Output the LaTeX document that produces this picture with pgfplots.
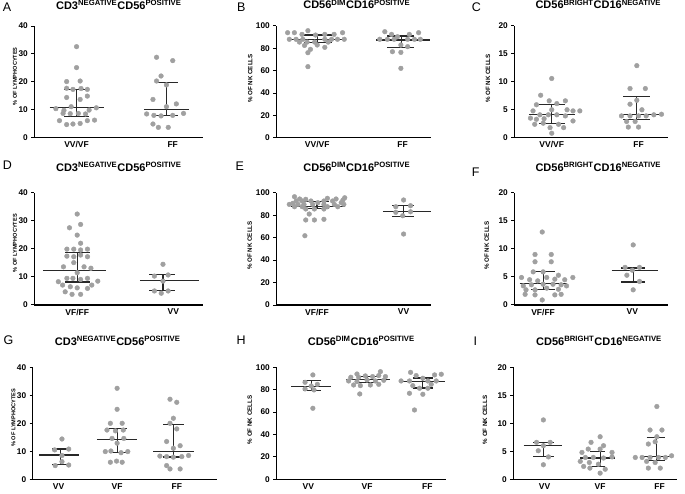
\documentclass[border=0pt]{standalone}
\usepackage{fontspec}
\setmainfont{Liberation Sans}
\usepackage{pgfplots}
\pgfplotsset{compat=1.18}
\definecolor{dotgray}{RGB}{160,160,160}
\definecolor{barcol}{RGB}{40,40,40}
\pgfplotsset{
  panel/.style={
    scale only axis, anchor=south west,
    axis x line*=bottom, axis y line*=left,
    axis line style={line width=1.1pt, black},
    ymin=0, clip=false,
    xtick style={draw=none},
    ytick style={line width=1pt, black},
    tick align=outside, major tick length=3pt,
    /pgf/number format/assume math mode=true,
    yticklabel style={font=\bfseries\fontsize{8.3}{9}\selectfont},
    xticklabel style={font=\bfseries\fontsize{8.5}{9}\selectfont, yshift=2.5pt},
    ylabel style={font=\bfseries\fontsize{6.2}{7}\selectfont, anchor=center},
    title style={font=\bfseries\fontsize{11}{13}\selectfont, at={(0.5,1)}, anchor=base},
  },
  dots/.style={only marks, mark=*, mark size=2.35pt, color=dotgray},
  bars/.style={line width=1.2pt, color=barcol, no markers, unbounded coords=jump},
}
\newcommand{\tA}{CD3\textsuperscript{NEGATIVE}CD56\textsuperscript{POSITIVE}}
\newcommand{\tB}{CD56\textsuperscript{DIM}CD16\textsuperscript{POSITIVE}}
\newcommand{\tC}{CD56\textsuperscript{BRIGHT}CD16\textsuperscript{NEGATIVE}}
\begin{document}
\begin{tikzpicture}
\useasboundingbox (0,0) rectangle (685pt,493pt);
% ---------------- A
\begin{axis}[panel, at={(34.3pt,355.3pt)}, width=169pt, height=111.7pt,
  xmin=0.53, xmax=2.41, ymax=40, ytick={0,10,20,30,40},
  xtick={1,2.07}, xticklabels={VV/VF,FF},
  ylabel={\% OF LYMPHOCYTES}, ylabel style={at={(axis description cs:-0.114,0.55)}, font=\bfseries\fontsize{5.6}{7}\selectfont},
  title={\tA}, title style={yshift=11pt}]
\addplot[dots] coordinates {(1.00,32.6)(1.00,25.1)(0.89,20.1)(1.04,20.3)(0.89,17.7)(0.96,17.3)(1.05,17.6)(1.12,17.3)(0.89,14.4)(1.12,14.9)(1.04,13.7)(0.77,10.4)(0.86,9.8)(1.22,10.7)(0.94,11.1)(1.14,9.9)(0.85,8.7)(0.93,8.6)(1.02,8.7)(1.10,8.5)(0.81,6.1)(1.12,6.1)(1.20,6.3)(0.89,4.7)(0.96,4.9)(1.04,5.1)};
\addplot[dots] coordinates {(1.89,28.8)(2.07,27.6)(1.94,22.1)(1.89,20.3)(2.00,18.9)(1.85,13.7)(2.00,11.1)(2.11,12.1)(1.78,8.5)(1.86,8.0)(1.94,7.8)(2.07,8.0)(2.19,8.7)(1.85,4.9)(1.91,3.7)(2.02,3.7)};
\addplot[bars] coordinates {(0.70,10.8)(1.31,10.8)(1,nan)(1,7.5)(1,17.4)(1,nan)(0.86,7.5)(1.14,7.5)(1,nan)(0.86,17.4)(1.14,17.4)};
\addplot[bars] coordinates {(1.75,10.0)(2.25,10.0)(2,nan)(2,8.0)(2,19.7)(2,nan)(1.87,8.0)(2.13,8.0)(2,nan)(1.87,19.7)(2.13,19.7)};
\end{axis}
% ---------------- B
\begin{axis}[panel, at={(276.3pt,355.3pt)}, width=155pt, height=111.7pt,
  xmin=0.516, xmax=2.35, ymax=100, ytick={0,20,40,60,80,100},
  xtick={1,2.01}, xticklabels={VV/VF,FF},
  ylabel={\% OF NK CELLS}, ylabel style={at={(axis description cs:-0.168,0.53)}},
  title={\tB}, title style={yshift=11pt, xshift=3pt}]
\addplot[dots] coordinates {(0.65,94.0)(0.73,94.0)(0.89,95.8)(0.82,92.5)(0.98,91.9)(1.09,92.5)(1.20,92.5)(1.30,94.0)(0.67,88.1)(0.75,88.1)(0.83,88.1)(1.09,88.1)(1.17,88.1)(1.24,88.1)(1.32,88.1)(0.79,85.6)(0.88,85.6)(0.97,85.6)(1.13,85.6)(0.85,82.6)(1.00,83.0)(0.92,79.1)(1.09,80.9)(0.89,76.1)(0.89,63.6)};
\addplot[dots] coordinates {(1.80,94.9)(1.88,92.5)(2.09,92.5)(2.20,94.0)(1.83,88.1)(1.91,88.1)(2.07,88.1)(2.15,88.1)(2.22,88.1)(1.95,90.4)(1.99,83.0)(2.07,81.5)(1.89,77.0)(1.99,76.4)(1.99,62.1)(1.74,88.1)};
\addplot[bars] coordinates {(0.67,88)(1.32,88)(1,nan)(1,85)(1,92)(1,nan)(0.84,85)(1.17,85)(1,nan)(0.84,92)(1.17,92)};
\addplot[bars] coordinates {(1.70,87.5)(2.33,87.5)(2,nan)(2,81)(2,91)(2,nan)(1.83,81)(2.15,81)(2,nan)(1.83,91)(2.15,91)};
\end{axis}
% ---------------- C
\begin{axis}[panel, at={(514.3pt,355.3pt)}, width=154pt, height=111.7pt,
  xmin=0.56, xmax=2.37, ymax=20, ytick={0,5,10,15,20},
  xtick={1,2.02}, xticklabels={VV/VF,FF},
  ylabel={\% OF NK CELLS}, ylabel style={at={(axis description cs:-0.171,0.53)}},
  title={\tC}, title style={yshift=11pt, xshift=7pt}]
\addplot[dots] coordinates {(1.00,10.6)(0.87,7.6)(0.97,6.6)(1.16,6.6)(1.06,6.1)(0.82,5.9)(1.00,5.0)(0.78,4.8)(1.25,4.8)(1.33,4.8)(0.86,4.1)(0.96,4.1)(1.06,4.1)(1.16,3.9)(0.75,3.5)(0.82,3.3)(0.91,3.4)(1.25,3.0)(0.90,2.6)(1.08,2.4)(0.98,1.8)(1.14,1.8)(1.00,0.8)(0.80,2.4)(1.18,5.0)};
\addplot[dots] coordinates {(2.00,12.9)(1.92,8.8)(2.10,8.8)(2.00,6.7)(1.92,6.0)(2.06,5.0)(1.82,3.9)(1.92,3.9)(2.02,3.9)(2.11,3.9)(2.20,4.1)(2.29,4.2)(1.88,2.9)(1.98,2.9)(1.90,1.9)(2.02,1.9)};
\addplot[bars] coordinates {(0.73,4.1)(1.27,4.1)(1,nan)(1,2.6)(1,5.9)(1,nan)(0.85,2.6)(1.16,2.6)(1,nan)(0.85,5.9)(1.16,5.9)};
\addplot[bars] coordinates {(1.80,4.1)(2.26,4.1)(2,nan)(2,3.3)(2,7.4)(2,nan)(1.84,3.3)(2.16,3.3)(2,nan)(1.84,7.4)(2.16,7.4)};
\end{axis}
% ---------------- D
\begin{axis}[panel, at={(34.3pt,188pt)}, width=169pt, height=112.3pt,
  xmin=0.5, xmax=2.47, ymax=40, ytick={0,10,20,30,40},
  xtick={1,2.12}, xticklabels={VF/FF,VV},
  ylabel={\% OF LYMPHOCYTES}, ylabel style={at={(axis description cs:-0.114,0.55)}, font=\bfseries\fontsize{5.6}{7}\selectfont},
  title={\tA}, title style={yshift=15.5pt}]
\addplot[dots] coordinates {(1.00,32.4)(1.04,28.7)(0.91,27.5)(1.00,24.9)(1.04,22.0)(0.88,19.9)(0.96,19.9)(1.04,19.6)(1.12,19.9)(0.88,17.4)(0.96,17.2)(1.04,17.8)(1.12,17.2)(0.96,15.1)(0.84,13.6)(1.08,13.6)(1.16,13.1)(1.00,11.5)(0.78,8.3)(0.88,9.5)(0.95,9.5)(1.04,9.1)(1.12,9.5)(1.24,8.5)(0.92,6.5)(1.00,6.1)(1.12,5.9)(0.86,4.7)(0.94,3.8)(1.04,3.8)(0.83,7.1)(1.17,7.1)};
\addplot[dots] coordinates {(2.00,14.5)(1.90,10.3)(2.06,10.7)(2.00,8.5)(1.90,5.0)(2.06,5.0)(1.98,4.2)};
\addplot[bars] coordinates {(0.60,12.4)(1.33,12.4)(1,nan)(1,8.2)(1,18.6)(1,nan)(0.86,8.2)(1.15,8.2)(1,nan)(0.86,18.6)(1.15,18.6)};
\addplot[bars] coordinates {(1.73,8.7)(2.42,8.7)(2,nan)(2,5.2)(2,10.8)(2,nan)(1.84,5.2)(2.14,5.2)(2,nan)(1.84,10.8)(2.14,10.8)};
\end{axis}
% ---------------- E
\begin{axis}[panel, at={(276.3pt,188pt)}, width=155pt, height=112.3pt,
  xmin=0.53, xmax=2.32, ymax=100, ytick={0,20,40,60,80,100},
  xtick={1,2}, xticklabels={VF/FF,VV},
  ylabel={\% OF NK CELLS}, ylabel style={at={(axis description cs:-0.172,0.53)}},
  title={\tB}, title style={yshift=15.5pt, xshift=3pt}]
\addplot[dots] coordinates {(0.74,96.4)(1.32,95.5)(0.80,94.4)(0.87,94.1)(1.12,95.0)(1.22,94.4)(0.76,92.6)(0.83,92.6)(0.93,92.6)(1.08,92.6)(1.18,92.6)(1.30,93.5)(0.72,90.5)(1.01,91.1)(1.28,91.1)(0.68,89.6)(0.78,89.6)(0.85,89.6)(0.95,89.6)(1.08,89.6)(1.20,89.6)(1.31,89.6)(0.74,87.5)(0.83,87.5)(1.12,87.5)(1.24,87.5)(0.87,85.5)(0.97,85.5)(1.08,85.5)(0.91,81.0)(0.87,75.7)(0.97,75.7)(1.08,76.3)(0.86,61.7)};
\addplot[dots] coordinates {(2.00,93.5)(1.91,87.5)(2.08,88.4)(1.91,82.5)(2.08,83.0)(1.99,79.5)(2.00,63.2)};
\addplot[bars] coordinates {(0.70,88)(1.32,88)(1,nan)(1,85.8)(1,91.9)(1,nan)(0.85,85.8)(1.14,85.8)(1,nan)(0.85,91.9)(1.14,91.9)};
\addplot[bars] coordinates {(1.76,83)(2.32,83)(2,nan)(2,79)(2,88.5)(2,nan)(1.87,79)(2.12,79)(2,nan)(1.87,88.5)(2.12,88.5)};
\end{axis}
% ---------------- F
\begin{axis}[panel, at={(514.3pt,188pt)}, width=154pt, height=112.3pt,
  xmin=0.68, xmax=2.39, ymax=20, ytick={0,5,10,15,20},
  xtick={1,1.99}, xticklabels={VF/FF,VV},
  ylabel={\% OF NK CELLS}, ylabel style={at={(axis description cs:-0.179,0.53)}},
  title={\tC}, title style={yshift=15.5pt, xshift=7pt}]
\addplot[dots] coordinates {(0.99,13.0)(0.91,9.0)(1.09,9.0)(0.91,7.7)(1.09,7.7)(0.89,5.9)(1.00,5.9)(0.76,4.9)(0.85,4.5)(0.94,4.3)(1.13,4.6)(1.24,4.5)(1.33,4.9)(1.04,4.9)(0.78,3.4)(0.87,3.6)(1.00,3.7)(1.11,3.7)(1.26,3.4)(0.81,2.7)(0.91,2.7)(1.04,3.0)(1.17,2.8)(0.80,1.9)(0.91,1.8)(1.13,1.8)(1.20,1.9)(0.99,0.9)(1.17,5.3)(1.20,3.6)};
\addplot[dots] coordinates {(2.00,10.7)(1.91,6.7)(2.07,6.7)(1.99,6.2)(1.93,5.3)(2.07,4.2)(2.00,2.7)};
\addplot[bars] coordinates {(0.74,3.9)(1.26,3.9)(1,nan)(1,2.7)(1,5.9)(1,nan)(0.87,2.7)(1.13,2.7)(1,nan)(0.87,5.9)(1.13,5.9)};
\addplot[bars] coordinates {(1.76,6.1)(2.28,6.1)(2,nan)(2,4.1)(2,6.6)(2,nan)(1.87,4.1)(2.13,4.1)(2,nan)(1.87,6.6)(2.13,6.6)};
\end{axis}
% ---------------- G
\begin{axis}[panel, at={(32.7pt,13.7pt)}, width=184pt, height=112pt,
  xmin=0.50, xmax=3.77, ymax=40, ytick={0,10,20,30,40},
  xtick={0.96,2,3.06}, xticklabels={VV,VF,FF},
  ylabel={\% OF LYMPHOCYTES}, ylabel style={at={(axis description cs:-0.105,0.55)}, font=\bfseries\fontsize{5.6}{7}\selectfont},
  title={\tA}, title style={yshift=16.3pt, xshift=-7pt}]
\addplot[dots] coordinates {(1.02,14.4)(0.89,10.5)(1.14,10.8)(1.02,8.5)(0.90,4.9)(1.14,5.1)(1.02,6.3)};
\addplot[dots] coordinates {(2.00,32.5)(2.00,25.0)(1.88,20.0)(2.09,20.0)(1.82,17.6)(1.97,17.3)(2.11,17.6)(1.91,14.6)(2.12,14.6)(2.00,12.9)(1.79,9.9)(1.89,10.1)(2.07,9.5)(2.19,9.9)(1.88,6.1)(2.09,6.1)(1.99,6.5)};
\addplot[dots] coordinates {(2.94,28.6)(3.06,27.5)(3.00,21.8)(2.94,20.0)(3.06,18.0)(2.88,13.5)(3.12,12.0)(3.00,11.1)(2.76,8.3)(2.88,8.1)(3.00,7.9)(3.15,8.1)(3.27,8.5)(2.88,4.9)(2.94,3.7)(3.12,3.7)};
\addplot[bars] coordinates {(0.62,8.7)(1.33,8.7)(1,nan)(1,5.2)(1,10.8)(1,nan)(0.85,5.2)(1.17,5.2)(1,nan)(0.85,10.8)(1.17,10.8)};
\addplot[bars] coordinates {(1.64,14.3)(2.36,14.3)(2,nan)(2,9.6)(2,18.2)(2,nan)(1.85,9.6)(2.17,9.6)(2,nan)(1.85,18.2)(2.17,18.2)};
\addplot[bars] coordinates {(2.64,10.0)(3.36,10.0)(3,nan)(3,8.0)(3,19.6)(3,nan)(2.82,8.0)(3.18,8.0)(3,nan)(2.82,19.6)(3.18,19.6)};
\end{axis}
% ---------------- H
\begin{axis}[panel, at={(276.3pt,13.7pt)}, width=170pt, height=112pt,
  xmin=0.375, xmax=3.42, ymax=100, ytick={0,20,40,60,80,100},
  xtick={0.95,2,3.08}, xticklabels={VV,VF,FF},
  ylabel={\% OF NK CELLS}, ylabel style={at={(axis description cs:-0.156,0.53)}},
  title={\tB}, title style={yshift=16.3pt}]
\addplot[dots] coordinates {(1.03,93.2)(0.89,86.6)(1.11,84.8)(1.00,83.3)(0.89,80.7)(1.05,79.8)(1.03,63.4)};
\addplot[dots] coordinates {(1.82,94.0)(2.24,96.1)(1.71,91.1)(1.85,91.1)(1.97,92.3)(2.10,91.7)(2.21,92.6)(2.33,91.7)(1.67,87.8)(1.82,87.2)(2.00,88.7)(2.15,87.8)(2.30,88.4)(1.76,84.2)(1.88,83.6)(2.06,84.2)(2.21,84.8)(1.87,76.2)};
\addplot[dots] coordinates {(2.78,95.5)(2.88,92.6)(3.21,93.2)(3.33,93.8)(2.61,87.8)(2.76,87.8)(3.09,87.8)(3.24,87.8)(3.00,90.2)(2.94,81.3)(3.09,81.3)(2.82,83.6)(2.76,76.8)(3.00,75.9)(2.85,61.9)(3.15,84.8)};
\addplot[bars] coordinates {(0.64,83)(1.36,83)(1,nan)(1,79)(1,88.5)(1,nan)(0.85,79)(1.18,79)(1,nan)(0.85,88.5)(1.18,88.5)};
\addplot[bars] coordinates {(1.62,89)(2.42,89)(2,nan)(2,86.3)(2,92)(2,nan)(1.82,86.3)(2.21,86.3)(2,nan)(1.82,92)(2.21,92)};
\addplot[bars] coordinates {(2.61,87.5)(3.39,87.5)(3,nan)(3,81.5)(3,90.5)(3,nan)(2.82,81.5)(3.18,81.5)(3,nan)(2.82,90.5)(3.18,90.5)};
\end{axis}
% ---------------- I
\begin{axis}[panel, at={(513.3pt,13.7pt)}, width=163.4pt, height=112pt,
  xmin=0.47, xmax=3.35, ymax=20, ytick={0,5,10,15,20},
  xtick={1.02,2,3.05}, xticklabels={VV,VF,FF},
  ylabel={\% OF NK CELLS}, ylabel style={at={(axis description cs:-0.173,0.53)}},
  title={\tC}, title style={yshift=16.3pt, xshift=4pt}]
\addplot[dots] coordinates {(1.00,10.6)(0.88,6.6)(1.12,6.6)(1.00,6.0)(0.91,5.1)(1.09,4.0)(1.00,2.6)};
\addplot[dots] coordinates {(2.00,7.6)(1.84,6.6)(2.06,6.0)(1.68,4.8)(1.79,5.4)(2.00,5.4)(2.21,4.8)(1.74,3.9)(1.88,3.9)(2.06,3.8)(2.21,4.0)(1.65,3.2)(1.81,3.0)(1.97,2.7)(1.82,2.0)(2.09,1.8)(2.00,1.1)(1.71,2.3)};
\addplot[dots] coordinates {(3.00,13.0)(2.88,8.8)(3.09,8.8)(3.00,7.6)(2.97,6.7)(2.85,6.3)(2.74,3.9)(2.88,3.9)(3.03,3.9)(3.15,3.9)(3.26,4.2)(2.82,3.2)(2.97,3.0)(2.85,2.0)(3.06,2.0)(2.62,3.9)};
\addplot[bars] coordinates {(0.65,6.1)(1.32,6.1)(1,nan)(1,4.1)(1,6.6)(1,nan)(0.82,4.1)(1.18,4.1)(1,nan)(0.82,6.6)(1.18,6.6)};
\addplot[bars] coordinates {(1.65,3.8)(2.26,3.8)(2,nan)(2,2.3)(2,4.9)(2,nan)(1.82,2.3)(2.09,2.3)(2,nan)(1.82,4.9)(2.09,4.9)};
\addplot[bars] coordinates {(2.71,4.1)(3.29,4.1)(3,nan)(3,3.3)(3,7.4)(3,nan)(2.82,3.3)(3.15,3.3)(3,nan)(2.82,7.4)(3.15,7.4)};
\end{axis}
% ---------------- panel letters
\begin{scope}[every node/.style={anchor=base west, inner sep=0pt, font=\fontsize{12.5}{13}\selectfont}]
\node at (2.7pt,481.3pt) {A};
\node at (237pt,481.3pt) {B};
\node at (471.7pt,481.3pt) {C};
\node at (2.7pt,323pt) {D};
\node at (235.3pt,322pt) {E};
\node at (471.7pt,316pt) {F};
\node at (3.3pt,149pt) {G};
\node at (236.3pt,148.7pt) {H};
\node at (473.3pt,148pt) {I};
\end{scope}
\end{tikzpicture}
\end{document}
